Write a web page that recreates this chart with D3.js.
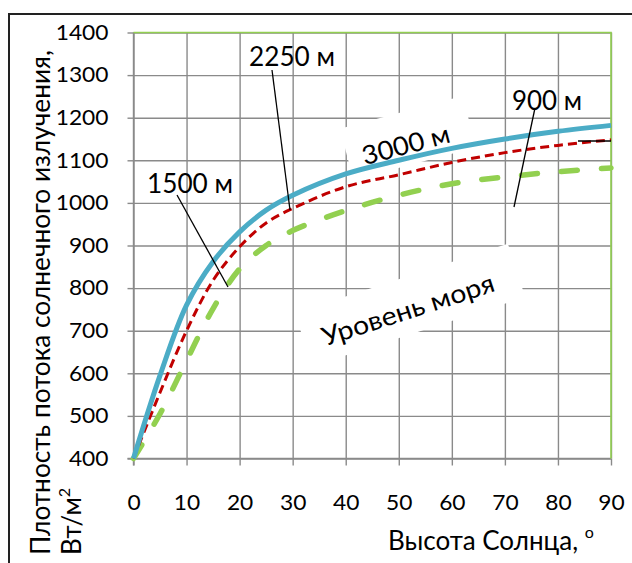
<!DOCTYPE html>
<html><head><meta charset="utf-8">
<script src="https://cdn.jsdelivr.net/npm/d3@7"></script>
<style>body{margin:0;background:#fff}svg{display:block}</style>
</head><body><svg id="c" width="632" height="563"></svg>
<script>
// ---- data ----
const sunAltitude = [0, 5, 10, 15, 20, 25, 30, 40, 50, 60, 70, 80, 90];
const flux3000 = [400, 595, 760, 862, 932, 983, 1018, 1068, 1100, 1128, 1150, 1168, 1182];
const flux2250 = [400, 555, 700, 818, 897, 953, 987, 1038, 1066, 1095, 1118, 1135, 1148];
const fluxSea  = [400, 505, 630, 752, 845, 900, 935, 982, 1018, 1045, 1061, 1073, 1082];
const xTicks = [0, 10, 20, 30, 40, 50, 60, 70, 80, 90];
const yTicks = [400, 500, 600, 700, 800, 900, 1000, 1100, 1200, 1300, 1400];
const calloutNames = ["1500 м", "2250 м", "900 м", "3000 м", "Уровень моря"];
const xTitle = "Высота Солнца, ";
const yTitle1 = "Плотность потока солнечного излучения,";
const yTitle2 = "Вт/м";

// ---- layout ----
const svg = d3.select("#c");
const FONT = "Lato, 'Open Sans', sans-serif";
svg.append("rect").attr("width", 632).attr("height", 563).attr("fill", "#fff");
svg.append("rect").attr("x", 9).attr("y", 14).attr("width", 700).attr("height", 700)
  .attr("fill", "none").attr("stroke", "#222").attr("stroke-width", 2);

const x = d3.scaleLinear().domain([0, 90]).range([133.5, 611]);
const y = d3.scaleLinear().domain([400, 1400]).range([458.5, 32.5]);
const W = x(90) - x(0), H = y(400) - y(1400);
const GRID = "#8a8a8a";

// gridlines
const gx = svg.append("g").attr("transform", `translate(0,${y(400)})`)
  .call(d3.axisBottom(x).tickValues(xTicks).tickSize(-H).tickFormat(""));
gx.select(".domain").remove();
gx.selectAll("line").attr("stroke", GRID).attr("stroke-width", 1.4);
const gy = svg.append("g").attr("transform", `translate(${x(0)},0)`)
  .call(d3.axisLeft(y).tickValues(yTicks).tickSize(-W).tickFormat(""));
gy.select(".domain").remove();
gy.selectAll("line").attr("stroke", GRID).attr("stroke-width", 1.4);

// white text boxes (hide gridlines)
function box(cx, cy, w, h, ang) {
  svg.append("rect").attr("x", -w / 2).attr("y", -h / 2).attr("width", w).attr("height", h)
    .attr("fill", "#fff").attr("transform", `translate(${cx},${cy}) rotate(${ang})`);
}
box(408, 138, 127, 53, -15);
box(410, 305, 224, 56, -18);

// axes (ticks + labels)
const fmt = d3.format("d");
const ax = svg.append("g").attr("transform", `translate(0,${y(400)})`)
  .call(d3.axisBottom(x).tickValues(xTicks).tickFormat(fmt).tickSize(7).tickPadding(29.5));
const ay = svg.append("g").attr("transform", `translate(${x(0)},0)`)
  .call(d3.axisLeft(y).tickValues(yTicks).tickFormat(fmt).tickSize(6).tickPadding(19));
[ax, ay].forEach(a => {
  a.select(".domain").remove();
  a.selectAll("line").attr("stroke", GRID).attr("stroke-width", 1.4);
  a.selectAll("text").attr("font-family", FONT).attr("font-size", 21).attr("fill", "#000")
    .attr("textLength", d => fmt(d).length * 13.2).attr("lengthAdjust", "spacingAndGlyphs");
});
svg.append("line").attr("x1", x(0)).attr("x2", x(0)).attr("y1", y(1400)).attr("y2", y(400) + 7)
  .attr("stroke", GRID).attr("stroke-width", 1.4);
svg.append("line").attr("x1", x(0) - 6).attr("x2", x(90)).attr("y1", y(400)).attr("y2", y(400))
  .attr("stroke", GRID).attr("stroke-width", 1.4);
// green top/right border
svg.append("path").attr("d", `M${x(0)},${y(1400)}H${x(90)}V${y(400)}`)
  .attr("fill", "none").attr("stroke", "#92d050").attr("stroke-width", 1.6);

// series
const line = d3.line().x((d, i) => x(sunAltitude[i])).y(d => y(d)).curve(d3.curveCatmullRom.alpha(0.5));
svg.append("path").datum(fluxSea).attr("d", line).attr("fill", "none")
  .attr("stroke", "#92d050").attr("stroke-width", 5.5).attr("stroke-dasharray", "16,24")
  .attr("stroke-linecap", "round");
svg.append("path").datum(flux2250).attr("d", line).attr("fill", "none")
  .attr("stroke", "#c00000").attr("stroke-width", 3).attr("stroke-dasharray", "9,5");
svg.append("path").datum(flux3000).attr("d", line).attr("fill", "none")
  .attr("stroke", "#4bacc6").attr("stroke-width", 5);

// leader lines
const leaders = [[177, 195, 228, 287], [272, 70, 290, 210], [535, 108, 514, 207], [578, 141, 611, 141]];
leaders.forEach(l => svg.append("line").attr("x1", l[0]).attr("y1", l[1]).attr("x2", l[2]).attr("y2", l[3])
  .attr("stroke", "#000").attr("stroke-width", 1.3));

// callout labels
function label(t, cx, cy, ang, len) {
  svg.append("text").text(t).attr("font-family", FONT).attr("font-size", 26).attr("fill", "#000")
    .attr("text-anchor", "middle").attr("transform", `translate(${cx},${cy}) rotate(${ang})`)
    .attr("y", 9).attr("textLength", len).attr("lengthAdjust", "spacingAndGlyphs");
}
label(calloutNames[0], 190, 184, 0, 86);
label(calloutNames[1], 292, 57, 0, 86);
label(calloutNames[2], 547, 101, 0, 70);
label(calloutNames[3], 406, 145, -15, 90);
label(calloutNames[4], 408, 310, -18, 180);

// axis titles
const xt = svg.append("text").attr("x", 388).attr("y", 550).attr("font-family", FONT)
  .attr("font-size", 26).attr("fill", "#000");
xt.append("tspan").text(xTitle);
xt.append("tspan").text("o").attr("font-size", 16).attr("dy", -12);

const yt = svg.append("g").attr("transform", "translate(50,555) rotate(-90)");
yt.append("text").text(yTitle1).attr("font-family", FONT).attr("font-size", 26).attr("fill", "#000")
  .attr("textLength", 505).attr("lengthAdjust", "spacingAndGlyphs");
const yt2 = yt.append("text").attr("y", 31).attr("font-family", FONT).attr("font-size", 26).attr("fill", "#000");
yt2.append("tspan").text(yTitle2);
yt2.append("tspan").text("2").attr("font-size", 16).attr("dy", -11);
</script></body></html>
